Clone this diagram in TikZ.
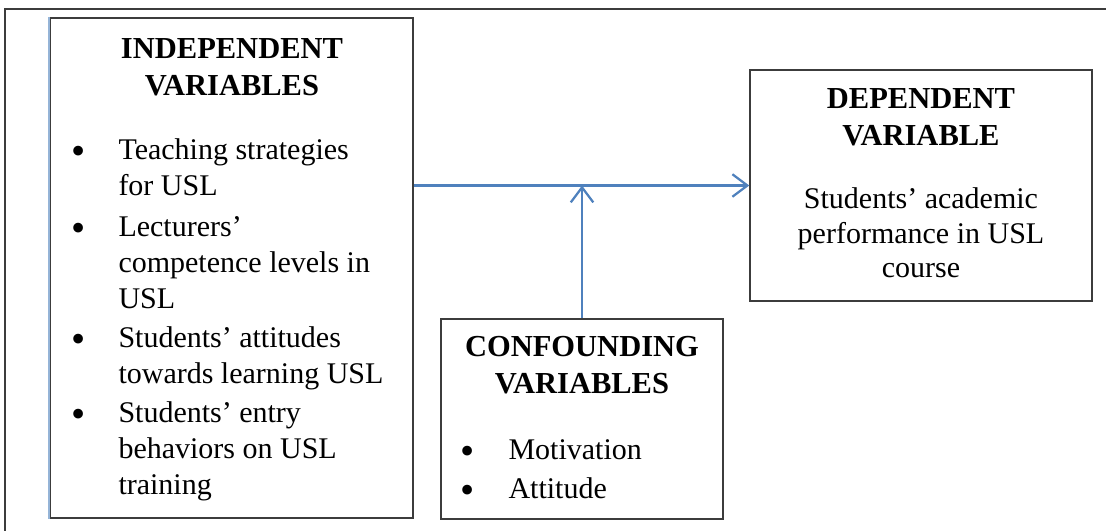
\documentclass[tikz,border=0pt]{standalone}
\usepackage{fontspec}
\setmainfont{Liberation Serif}
\usetikzlibrary{arrows.meta,positioning}
\definecolor{linkblue}{RGB}{79,129,189}
\definecolor{framegray}{RGB}{60,60,60}
\newcommand{\bigdot}{\hspace{-2.5pt}\raisebox{-2pt}[0pt][0pt]{\scalebox{1.35}{\textbullet}}}
\tikzset{
  varbox/.style={draw=framegray, line width=0.6pt, inner sep=0pt},
  headtext/.style={font=\bfseries\fontsize{12.2}{14.8}\selectfont, align=center, inner sep=0pt},
  bodytext/.style={font=\fontsize{12}{14.4}\selectfont, inner sep=0pt},
  flow/.style={draw=linkblue, line width=0.9pt, -{Straight Barb[length=6pt,width=9pt]}}
}
\begin{document}
\begin{tikzpicture}[x=0.4pt,y=-0.4pt]
\useasboundingbox (0,0) rectangle (1106,531);
% outer frame
\draw[framegray, line width=0.6pt] (5,531) -- (5,9) -- (1106,9);

% boxes
\node[varbox, minimum width=145.2pt, minimum height=200pt] (ind) at (231.5,268) {};
\draw[linkblue!60, line width=0.8pt] (ind.north west) -- (ind.south west);
\node[varbox, minimum width=136.8pt, minimum height=92.4pt] (dep) at (921,185.5) {};
\node[varbox, minimum width=112.8pt, minimum height=80pt] (conf) at (582,419) {};

% independent variables
\node[headtext] (indhead) at (232,67) {INDEPENDENT\\VARIABLES};
\node[bodytext, anchor=north west] (indlist) at (77,134) {%
\begin{tabular}{@{}p{16.4pt}@{}l@{}}
\bigdot & Teaching strategies\\
 & for USL\\[1.8pt]
\bigdot & Lecturers'\\
 & competence levels in\\
 & USL\\[1.2pt]
\bigdot & Students' attitudes\\
 & towards learning USL\\[1.2pt]
\bigdot & Students' entry\\
 & behaviors on USL\\
 & training
\end{tabular}};

% dependent variable
\node[headtext] (dephead) at (921,117) {DEPENDENT\\VARIABLE};
\node[bodytext, align=center, font=\fontsize{12}{13.8}\selectfont] (deptext) at (921,233) {Students' academic\\performance in USL\\course};

% confounding variables
\node[headtext] (confhead) at (582,365) {CONFOUNDING\\VARIABLES};
\node[bodytext, anchor=north west] (conflist) at (466,434) {%
\begin{tabular}{@{}p{16.8pt}@{}l@{}}
\bigdot & Motivation\\[1pt]
\bigdot & Attitude
\end{tabular}};

% arrows
\draw[flow] (ind.east |- dep.west) -- (dep.west);
\draw[flow] (conf.north) -- (conf.north |- dep.west);
\end{tikzpicture}
\end{document}
